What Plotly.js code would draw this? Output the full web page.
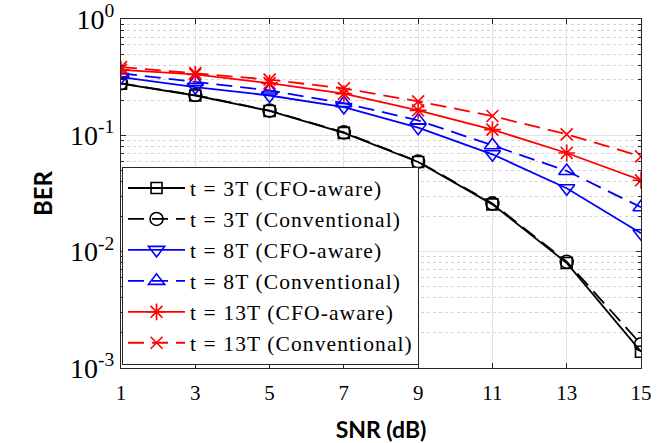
<!DOCTYPE html>
<html>
<head>
<meta charset="utf-8">
<script src="https://cdn.plot.ly/plotly-3.0.1.min.js"></script>
<style>html,body{margin:0;padding:0;background:#fff;}#chart{width:661px;height:443px;}
.legendtext{letter-spacing:1.1px;}</style>
</head>
<body>
<div id="chart"></div>
<script>
const snr = [1, 3, 5, 7, 9, 11, 13, 15];
const ber3T_cfo  = [0.278, 0.220, 0.162, 0.105, 0.0590, 0.0255, 0.0080, 0.00138];
const ber3T_conv = [0.280, 0.222, 0.163, 0.106, 0.0595, 0.0260, 0.0082, 0.00160];
const ber8T_cfo  = [0.317, 0.260, 0.220, 0.175, 0.1165, 0.0687, 0.0351, 0.0144];
const ber8T_conv = [0.341, 0.287, 0.243, 0.189, 0.1345, 0.0821, 0.0494, 0.0241];
const ber13T_cfo  = [0.366, 0.334, 0.281, 0.228, 0.164, 0.112, 0.0705, 0.0411];
const ber13T_conv = [0.386, 0.343, 0.301, 0.253, 0.196, 0.1465, 0.102, 0.066];
const names = ['t = 3T (CFO-aware)', 't = 3T (Conventional)', 't = 8T (CFO-aware)',
               't = 8T (Conventional)', 't = 13T (CFO-aware)', 't = 13T (Conventional)'];
const yTickVals = [0.001, 0.01, 0.1, 1];
const yTickText = ['10<sup>-3</sup>', '10<sup>-2</sup>', '10<sup>-1</sup>', '10<sup>0</sup>'];

function tr(y, name, color, dash, symbol, size) {
  return {
    x: snr, y: y, name: name, type: 'scatter', mode: 'lines+markers',
    line: {color: color, width: 1.8, dash: dash},
    marker: {symbol: symbol, size: size, color: color, line: {color: color, width: 1.6}}
  };
}
const D = '16px,8px';
const data = [
  tr(ber3T_cfo, names[0], '#000000', 'solid', 'square-open', 11),
  tr(ber3T_conv, names[1], '#000000', D, 'circle-open', 13),
  tr(ber8T_cfo, names[2], '#0000ff', 'solid', 'triangle-down-open', 14),
  tr(ber8T_conv, names[3], '#0000ff', D, 'triangle-up-open', 14),
  tr(ber13T_cfo, names[4], '#ff0000', 'solid', 'asterisk-open', 14),
  tr(ber13T_conv, names[5], '#ff0000', D, 'x-thin-open', 12)
];

const serif = 'Liberation Serif, Times New Roman, serif';
const layout = {
  width: 661, height: 443,
  margin: {l: 120.5, r: 19.5, t: 18.5, b: 75},
  paper_bgcolor: '#ffffff', plot_bgcolor: '#ffffff',
  showlegend: true,
  legend: {
    x: 0.002, y: 0.01, xanchor: 'left', yanchor: 'bottom',
    bgcolor: '#ffffff', bordercolor: '#262626', borderwidth: 1,
    font: {family: serif, size: 21.5, color: '#000'},
    itemwidth: 57, tracegroupgap: 0
  },
  xaxis: {
    range: [1, 15], tickvals: snr, ticktext: snr.map(String),
    showline: true, mirror: 'ticks', linecolor: '#262626', linewidth: 1,
    ticks: 'inside', ticklen: 5, tickcolor: '#262626',
    showgrid: true, gridcolor: '#e3e3e3', gridwidth: 1, zeroline: false,
    tickfont: {family: serif, size: 21, color: '#000'},
    ticklabelstandoff: 6,
    title: {text: 'SNR (dB)', font: {family: 'Lato, Open Sans, sans-serif', size: 23, color: '#000', weight: 'bold'}, standoff: 18}
  },
  yaxis: {
    type: 'log', range: [-3, 0], tickvals: yTickVals, ticktext: yTickText,
    showline: true, mirror: 'ticks', linecolor: '#262626', linewidth: 1,
    ticks: 'inside', ticklen: 5, tickcolor: '#262626',
    showgrid: true, gridcolor: '#e3e3e3', gridwidth: 1, zeroline: false,
    tickfont: {family: serif, size: 28, color: '#000'},
    minor: {dtick: 'D1', ticks: 'inside', ticklen: 3, tickcolor: '#262626', showgrid: true, gridcolor: '#d2d2d2', griddash: 'dot', gridwidth: 1},
    title: {text: 'BER', font: {family: 'Lato, Open Sans, sans-serif', size: 24, color: '#000', weight: 'bold'}, standoff: 10}
  }
};
Plotly.newPlot('chart', data, layout, {displayModeBar: false, staticPlot: true});
</script>
</body>
</html>
